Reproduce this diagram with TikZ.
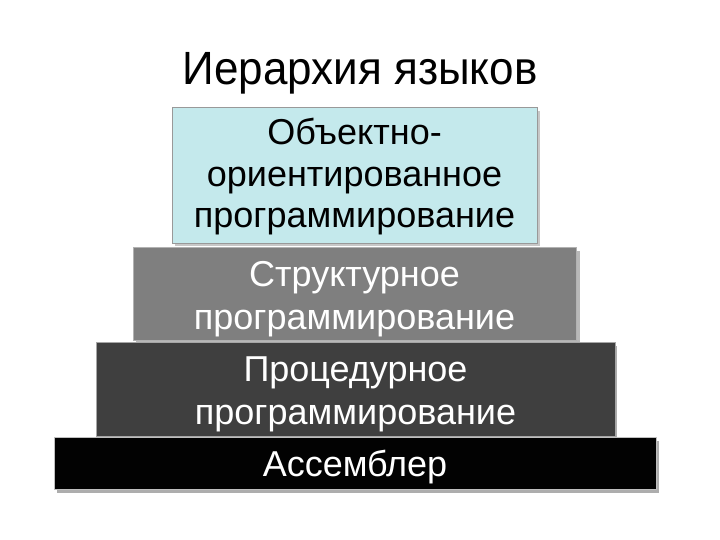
\documentclass[tikz,border=0pt]{standalone}
\usepackage{fontspec}
\setmainfont{Liberation Sans}
\begin{document}
\begin{tikzpicture}[x=1pt,y=1pt,
  tier/.style={draw=#1, line width=1pt, inner sep=0pt, outer sep=0pt, anchor=north west},
  lbl/.style={anchor=base, inner sep=0pt, font=\fontsize{36}{42}\selectfont, text=#1},
  lbl/.default=white]
\useasboundingbox (0,0) rectangle (720,540);
\fill[white] (0,0) rectangle (720,540);
\definecolor{oop}{HTML}{C4E9EC}
\definecolor{struct}{HTML}{7F7F7F}
\definecolor{proc}{HTML}{3F3F3F}
\definecolor{asm}{HTML}{020202}
% shadows
\fill[black!22] (175,294) rectangle (540,429);
\fill[black!28] (136,195) rectangle (580,289);
\fill[black!32] (99,100) rectangle (617,194);
\fill[black!32] (57,47) rectangle (659,99);
% boxes
\node[tier=gray!80, fill=oop, minimum width=365, minimum height=136] (oop) at (172,432) {};
\node[tier=gray!60, fill=struct, minimum width=443, minimum height=93] (st) at (133,292) {};
\node[tier=gray!70, fill=proc, minimum width=519, minimum height=94] (pr) at (96,197) {};
\node[tier=gray!50, fill=asm, minimum width=602, minimum height=52] (as) at (54,102) {};
% texts
\node[lbl=black] (oop1) at (oop.center |- 0,395) {Объектно-};
\node[lbl=black] (oop2) at (oop.center |- 0,353) {ориентированное};
\node[lbl=black] (oop3) at (oop.center |- 0,312) {программирование};
\node[lbl] (st1) at (st.center |- 0,253) {Структурное};
\node[lbl] (st2) at (st.center |- 0,210) {программирование};
\node[lbl] (pr1) at (pr.center |- 0,158) {Процедурное};
\node[lbl] (pr2) at (pr.center |- 0,115) {программирование};
\node[lbl] (as1) at (as.center |- 0,63) {Ассемблер};
\node[anchor=base, inner sep=0pt, font=\fontsize{44}{50}\selectfont] (title) at (360,455) {\scalebox{1}[1.06]{Иерархия языков}};
\end{tikzpicture}
\end{document}
